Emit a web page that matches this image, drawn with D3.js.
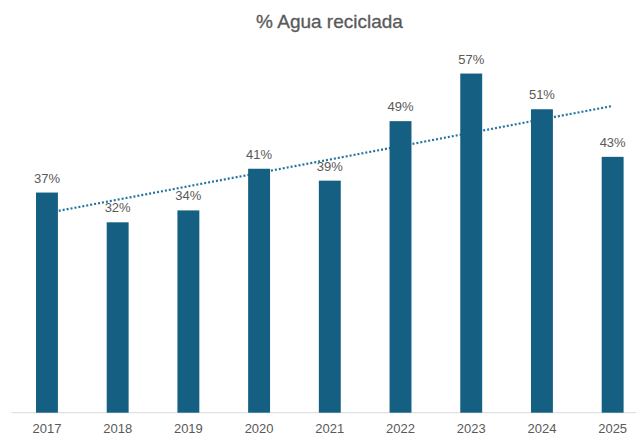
<!DOCTYPE html>
<html>
<head>
<meta charset="utf-8">
<script src="https://cdn.jsdelivr.net/npm/d3@7"></script>
<style>
  body { margin: 0; background: #fff; }
  svg { display: block; font-family: "Liberation Sans", Arial, sans-serif; }
</style>
</head>
<body>
<svg id="chart" width="636" height="435"></svg>
<script>
// chart data
var years = ["2017", "2018", "2019", "2020", "2021", "2022", "2023", "2024", "2025"];
var values = [0.37, 0.32, 0.34, 0.41, 0.39, 0.49, 0.57, 0.51, 0.43];
var title = "% Agua reciclada";

var width = 636, height = 435;
var baseY = 412.7;

var svg = d3.select("#chart");

// scales
var x = d3.scaleBand()
  .domain(years)
  .range([11.6, 648])
  .paddingInner(0.69)
  .paddingOuter(0.345);

var y = d3.scaleLinear()
  .domain([0, 0.6])
  .range([baseY, baseY - 357]);

// title
svg.append("text")
  .attr("x", 329.5)
  .attr("y", 28)
  .attr("text-anchor", "middle")
  .attr("fill", "#595959")
  .style("font-size", "19px")
  .style("stroke", "#595959")
  .style("stroke-width", 0.3)
  .text(title);

// linear trendline (least squares over the category index)
var n = values.length;
var mx = d3.mean(values, function (d, i) { return i; });
var my = d3.mean(values);
var sxy = d3.sum(values, function (d, i) { return (i - mx) * (d - my); });
var sxx = d3.sum(values, function (d, i) { return (i - mx) * (i - mx); });
var slope = sxy / sxx;
var icpt = my - slope * mx;

var trend = [0, n - 1].map(function (i) {
  return [x(years[i]) + x.bandwidth() / 2, y(icpt + slope * i)];
});

svg.append("path")
  .attr("d", d3.line()(trend))
  .attr("fill", "none")
  .attr("stroke", "#2474a0")
  .attr("stroke-width", 2.2)
  .attr("stroke-dasharray", "2 2");

// axis line
svg.append("line")
  .attr("x1", 11.6)
  .attr("x2", width)
  .attr("y1", baseY)
  .attr("y2", baseY)
  .attr("stroke", "#d9d9d9")
  .attr("stroke-width", 1);

// bars
svg.selectAll(".bar")
  .data(values)
  .enter()
  .append("rect")
  .attr("class", "bar")
  .attr("x", function (d, i) { return x(years[i]); })
  .attr("y", function (d) { return y(d); })
  .attr("width", x.bandwidth())
  .attr("height", function (d) { return baseY - y(d); })
  .attr("fill", "#156082");

// data labels
svg.selectAll(".lbl")
  .data(values)
  .enter()
  .append("text")
  .attr("class", "lbl")
  .attr("x", function (d, i) { return x(years[i]) + x.bandwidth() / 2; })
  .attr("y", function (d) { return y(d) - 10; })
  .attr("text-anchor", "middle")
  .attr("fill", "#595959")
  .style("font-size", "13px")
  .text(function (d) { return d3.format(".0%")(d); });

// category labels
svg.selectAll(".tick")
  .data(years)
  .enter()
  .append("text")
  .attr("class", "tick")
  .attr("x", function (d) { return x(d) + x.bandwidth() / 2; })
  .attr("y", 432.5)
  .attr("text-anchor", "middle")
  .attr("fill", "#595959")
  .style("font-size", "13px")
  .text(function (d) { return d; });
</script>
</body>
</html>
